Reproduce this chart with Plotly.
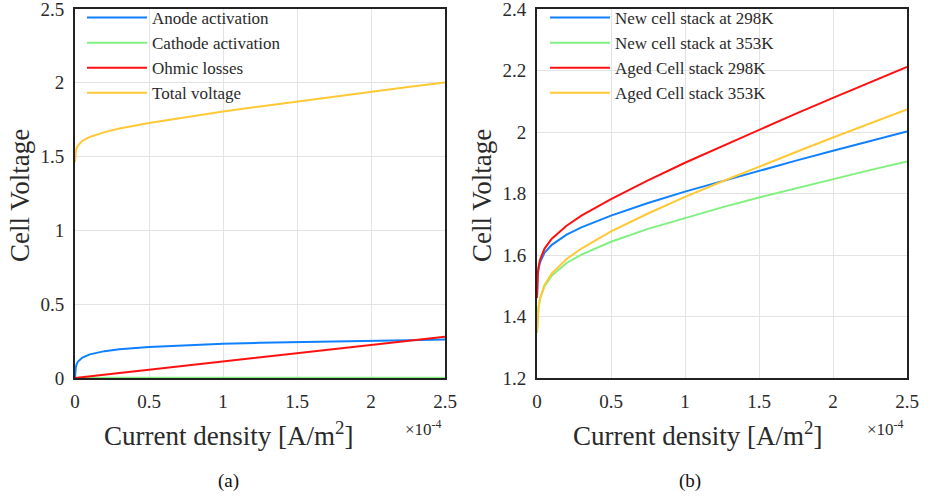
import plotly.graph_objects as go

# ---------------- data ----------------
current_density = [0, 0.002, 0.005, 0.01, 0.02, 0.05, 0.1, 0.2, 0.3, 0.5,
                   0.75, 1, 1.25, 1.5, 1.75, 2, 2.25, 2.5]  # x 1e-4 A/m^2

# panel (a)
anode_activation = [0, 0.0466, 0.0706, 0.0905, 0.111, 0.139, 0.160, 0.182, 0.194, 0.210,
                    0.2226, 0.2315, 0.2384, 0.244, 0.2488, 0.253, 0.2566, 0.260]
cathode_activation = [0, 0.0001, 0.0002, 0.0003, 0.0004, 0.0006, 0.0007, 0.0009, 0.001, 0.0011,
                      0.0012, 0.0013, 0.0014, 0.0014, 0.0015, 0.0015, 0.0016, 0.0016]
ohmic_losses = [0, 0.0002, 0.0006, 0.0011, 0.0022, 0.0056, 0.0112, 0.0224, 0.0336, 0.056,
                0.084, 0.112, 0.14, 0.168, 0.196, 0.224, 0.252, 0.28]
total_voltage = [1.462, 1.509, 1.533, 1.554, 1.575, 1.607, 1.633, 1.666, 1.690, 1.728,
                 1.769, 1.806, 1.840, 1.874, 1.907, 1.939, 1.971, 2.002]

# panel (b)
new_298 = total_voltage
new_353 = [1.347, 1.378, 1.404, 1.428, 1.457, 1.498, 1.533, 1.574, 1.601, 1.643,
           1.685, 1.721, 1.755, 1.787, 1.817, 1.847, 1.876, 1.904]
aged_298 = [1.460, 1.510, 1.537, 1.560, 1.584, 1.620, 1.653, 1.695, 1.728, 1.782,
            1.843, 1.900, 1.954, 2.007, 2.060, 2.111, 2.162, 2.212]
aged_353 = [1.347, 1.379, 1.404, 1.429, 1.458, 1.502, 1.540, 1.587, 1.621, 1.677,
            1.735, 1.789, 1.839, 1.888, 1.935, 1.982, 2.028, 2.073]

names_a = ["Anode activation", "Cathode activation", "Ohmic losses", "Total voltage"]
names_b = ["New cell stack at 298K", "New cell stack at 353K", "Aged Cell stack 298K", "Aged Cell stack 353K"]
colors = ["#0f80ff", "#80f080", "#ff1010", "#ffc835"]

x_ticks = [0, 0.5, 1, 1.5, 2, 2.5]
y_ticks_a = [0, 0.5, 1, 1.5, 2, 2.5]
y_ticks_b = [1.2, 1.4, 1.6, 1.8, 2.0, 2.2, 2.4]

# ---------------- figure ----------------
W, H = 929, 501
FONT = "Liberation Serif"
TXT = "#2a2a2a"

def px(x):
    return x / W

def py(y):
    return 1 - y / H

fig = go.Figure()

for name, ys, c in zip(names_a, [anode_activation, cathode_activation, ohmic_losses, total_voltage], colors):
    fig.add_trace(go.Scatter(x=current_density, y=ys, mode="lines", name=name, cliponaxis=False,
                             line=dict(color=c, width=2), xaxis="x", yaxis="y", legend="legend"))

for name, ys, c in zip(names_b, [new_298, new_353, aged_298, aged_353], colors):
    fig.add_trace(go.Scatter(x=current_density, y=ys, mode="lines", name=name, cliponaxis=False,
                             line=dict(color=c, width=2), xaxis="x2", yaxis="y2", legend="legend2"))

ydom = [py(378), py(9)]
axis_common = dict(showgrid=True, gridcolor="#e3e3e3", gridwidth=1, zeroline=False,
                   showline=True, linecolor="#222222", linewidth=2, mirror=True,
                   layer="below traces",
                   ticks="", ticklabeloverflow="allow",
                   tickfont=dict(family=FONT, size=19, color=TXT))

fig.update_layout(
    template="none",
    width=W, height=H,
    margin=dict(l=0, r=0, t=0, b=0),
    paper_bgcolor="white", plot_bgcolor="white",
    font=dict(family=FONT, color=TXT, size=18),
    xaxis=dict(domain=[px(75), px(445)], range=[0, 2.5], tickvals=x_ticks, anchor="y",
               ticklabelstandoff=5, **axis_common),
    yaxis=dict(domain=ydom, range=[0, 2.5], tickvals=y_ticks_a, anchor="x",
               ticklabelstandoff=5, **axis_common),
    xaxis2=dict(domain=[px(537), px(907)], range=[0, 2.5], tickvals=x_ticks, anchor="y2",
                ticklabelstandoff=5, **axis_common),
    yaxis2=dict(domain=ydom, range=[1.2, 2.4], tickvals=y_ticks_b, anchor="x2",
                ticklabelstandoff=5, **axis_common),
    legend=dict(x=px(82), y=py(0), xanchor="left", yanchor="top",
                bgcolor="rgba(0,0,0,0)", borderwidth=0,
                font=dict(family=FONT, size=17, color=TXT), tracegroupgap=0,
                itemwidth=60),
    legend2=dict(x=px(545), y=py(0), xanchor="left", yanchor="top",
                 bgcolor="rgba(0,0,0,0)", borderwidth=0,
                 font=dict(family=FONT, size=17, color=TXT), tracegroupgap=0,
                 itemwidth=60),
    showlegend=True,
)

ann = []
for cx, ax_lab, lab in [(228, 228, "(a)"), (697, 690, "(b)")]:
    ann.append(dict(x=px(cx), y=py(434), xref="paper", yref="paper", text="Current density [A/m<sup>2</sup>]",
                    showarrow=False, font=dict(family=FONT, size=27, color=TXT),
                    xanchor="center", yanchor="middle"))
    ann.append(dict(x=px(ax_lab), y=py(481), xref="paper", yref="paper", text=lab,
                    showarrow=False, font=dict(family=FONT, size=19, color="#111111"),
                    xanchor="center", yanchor="middle"))
for rx in [444, 906]:
    ann.append(dict(x=px(rx), y=py(428), xref="paper", yref="paper", text="×10<sup>-4</sup>",
                    showarrow=False, font=dict(family=FONT, size=17, color=TXT),
                    xanchor="right", yanchor="middle"))
for lx in [20, 482]:
    ann.append(dict(x=px(lx), y=py(196), xref="paper", yref="paper", text="Cell Voltage",
                    showarrow=False, textangle=-90, font=dict(family=FONT, size=27, color=TXT),
                    xanchor="center", yanchor="middle"))
fig.update_layout(annotations=ann)

fig.write_html("out.html")
